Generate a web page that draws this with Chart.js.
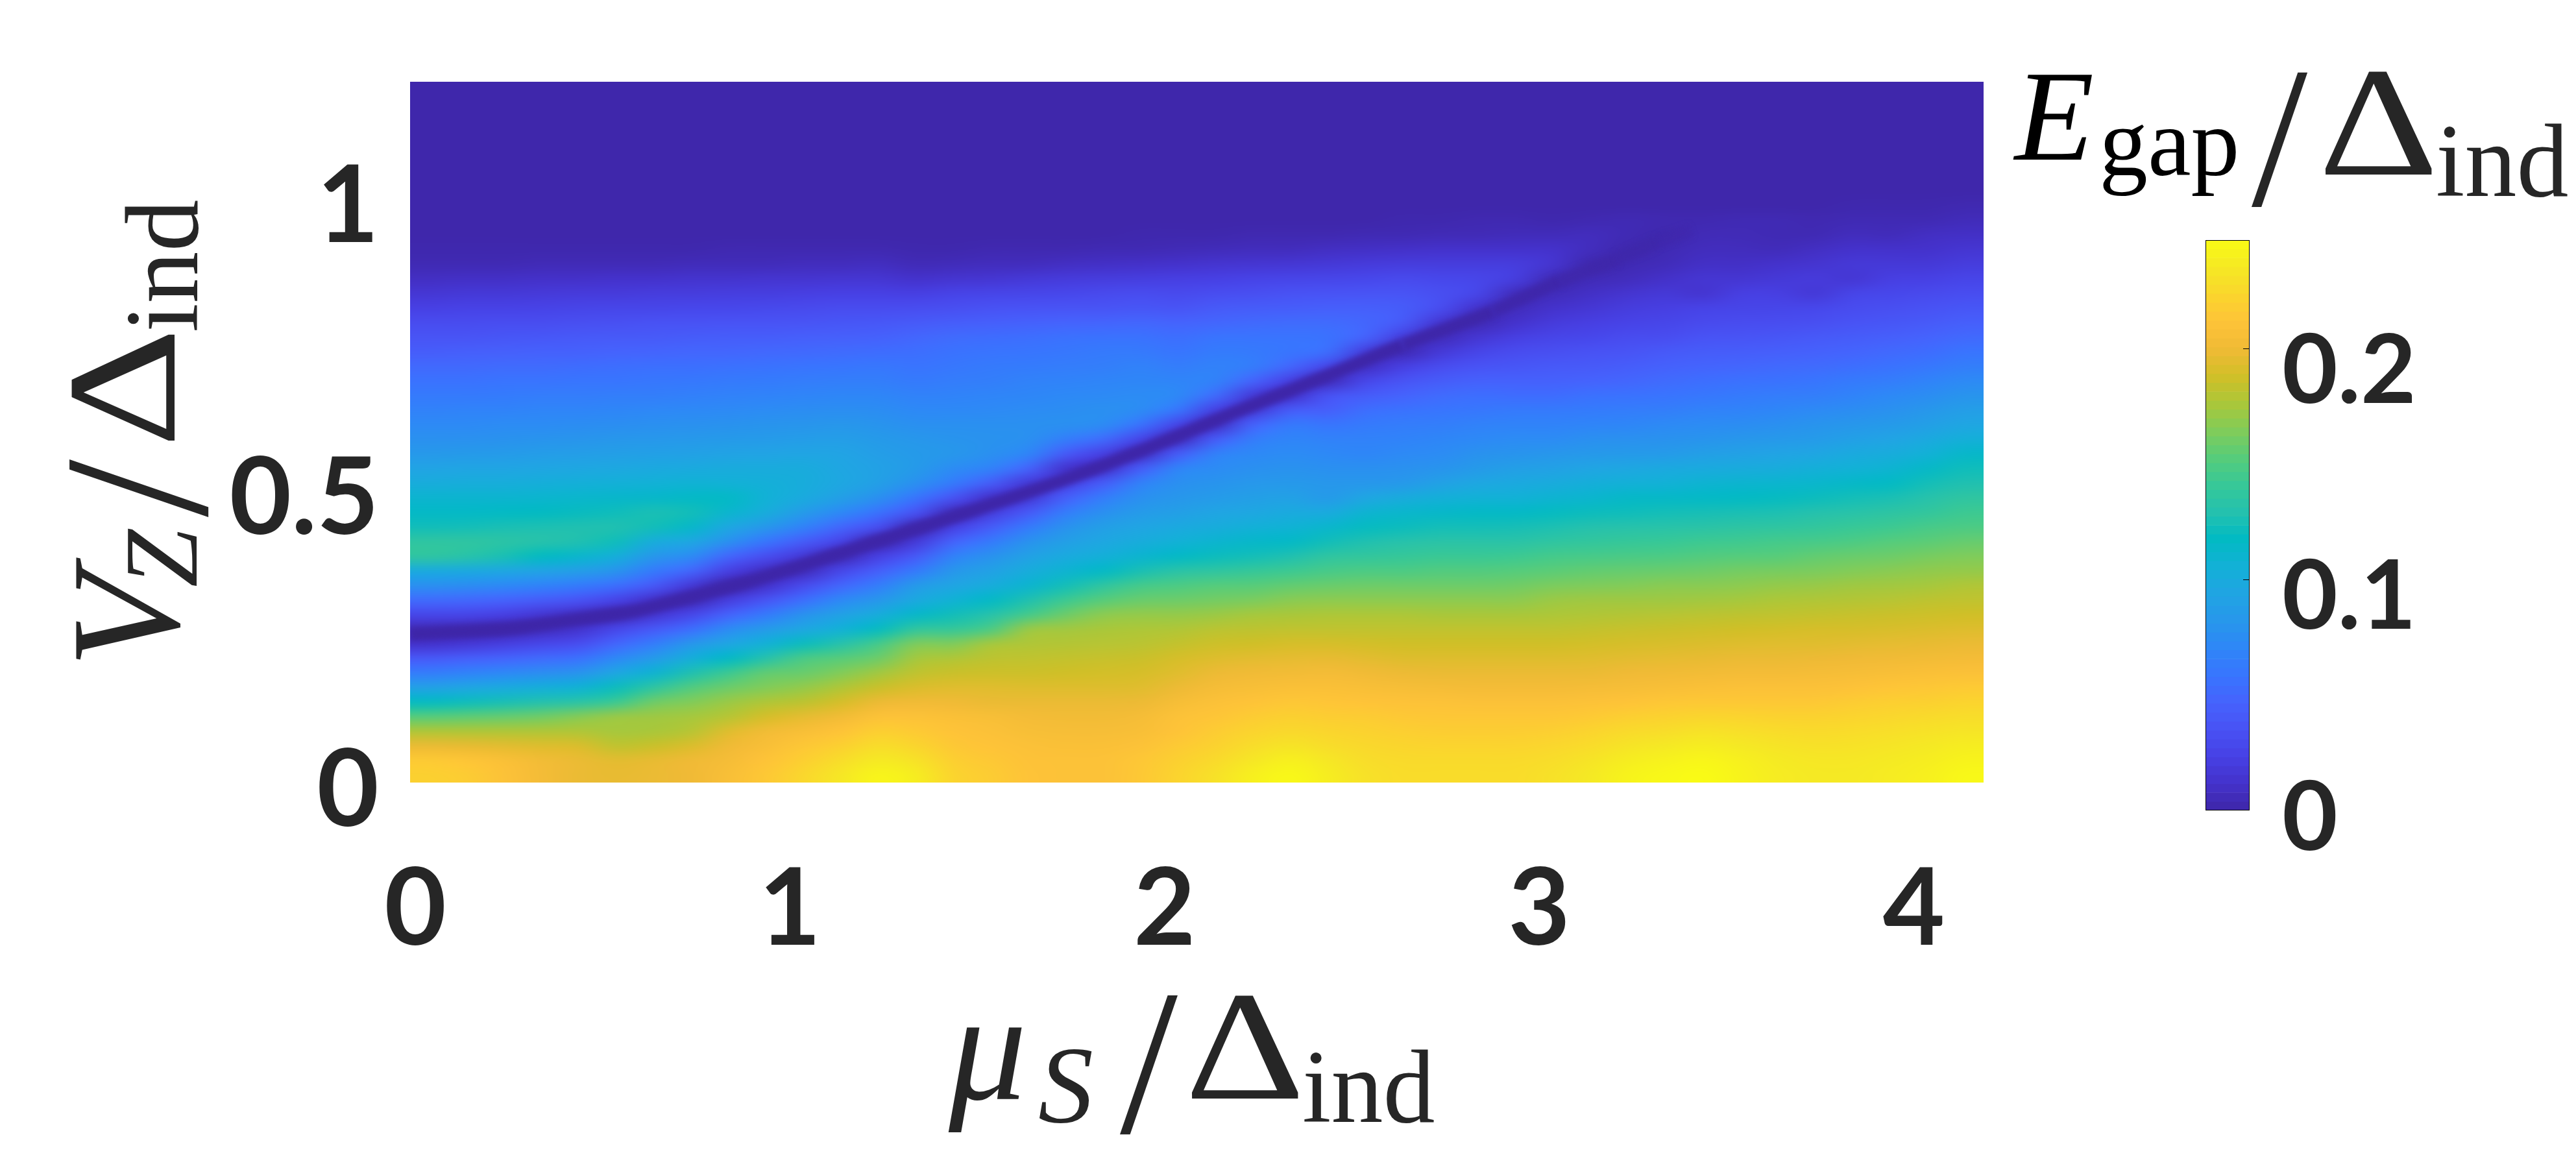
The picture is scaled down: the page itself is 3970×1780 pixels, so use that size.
<!DOCTYPE html>
<html>
<head>
<meta charset="utf-8">
<title>E_gap map</title>
<script src="https://cdn.jsdelivr.net/npm/chart.js@4"></script>
<style>
html, body { margin: 0; background: #fff; }
#wrap { position: relative; width: 3970px; height: 1780px; overflow: hidden; }
#wrap canvas { position: absolute; }
</style>
</head>
<body>
<div id="wrap">
  <canvas id="map" width="3970" height="1780" style="left:0;top:0"></canvas>
  <canvas id="bar" width="670" height="1060" style="left:3300px;top:300px"></canvas>
</div>
<script>
// cell centres of the map
const muCols = [0.05,0.15,0.25,0.35,0.45,0.55,0.65,0.75,0.85,0.95,1.05,1.15,1.25,1.35,1.45,1.55,1.65,1.75,1.85,1.95,2.05,2.15,2.25,2.35,2.45,2.55,2.65,2.75,2.85,2.95,3.05,3.15,3.25,3.35,3.45,3.55,3.65,3.75,3.85,3.95,4.05,4.15];
const vzRows = [0.0125,0.0375,0.0625,0.0875,0.1125,0.1375,0.1625,0.1875,0.2125,0.2375,0.2625,0.2875,0.3125,0.3375,0.3625,0.3875,0.4125,0.4375,0.4625,0.4875,0.5125,0.5375,0.5625,0.5875,0.6125,0.6375,0.6625,0.6875,0.7125,0.7375,0.7625,0.7875,0.8125,0.8375,0.8625,0.8875,0.9125,0.9375,0.9625,0.9875,1.0125,1.0375,1.0625,1.0875,1.1125,1.1375,1.1625,1.1875];
const rowStep = 0.025;

// E_gap in thousandths, one list per mu column, from V_Z = 0 upward.
// Rows past the end of a list sit in the flat dark region (flatGap).
const flatGap = 1;
const gapByMu = [
[220,216,198,178,153,119,91,64,40,12,7,27,52,77,99,136,136,123,116,110,101,93,84,78,73,67,62,57,51,43,37,31,23,16,9,4,2],
[217,213,197,178,155,122,95,68,44,16,6,26,50,75,98,132,136,124,116,110,102,94,85,78,73,68,62,57,51,44,37,31,24,17,10,4,2],
[210,208,195,178,157,126,99,72,48,21,4,22,47,72,96,126,134,126,117,110,102,94,86,79,74,68,63,58,52,45,38,32,24,17,10,4,2],
[203,202,193,178,160,130,103,76,52,27,8,16,42,68,92,118,131,127,118,111,103,95,87,80,74,69,64,58,52,46,39,32,25,18,11,5,2],
[198,198,192,178,166,134,107,80,56,32,13,10,36,63,88,112,128,128,120,112,104,96,88,81,75,69,64,59,53,46,40,33,26,19,11,5,2],
[197,195,183,175,172,143,121,96,72,49,27,6,25,55,80,103,122,128,122,113,105,97,89,82,76,70,65,59,54,47,41,34,27,19,12,5,2],
[198,197,186,176,173,160,136,109,86,64,40,15,12,40,62,82,101,123,126,114,106,98,90,83,77,71,65,60,55,48,41,35,27,20,12,5,2],
[200,200,192,180,175,165,151,128,103,82,54,27,5,17,49,74,96,114,123,116,107,99,91,84,78,72,66,61,55,49,42,35,28,20,13,6,2],
[207,204,200,194,180,172,159,143,116,95,74,47,20,3,22,49,77,96,111,116,106,100,92,85,79,73,67,62,56,49,43,36,28,21,13,6,3],
[215,212,207,202,190,178,165,156,131,106,86,62,37,12,10,32,59,82,101,106,104,100,93,86,80,74,68,63,57,50,43,36,29,21,14,6,3],
[224,219,214,207,196,182,170,158,148,121,96,79,54,30,7,17,42,67,86,99,101,100,94,87,81,75,69,64,58,51,44,37,30,22,14,7,3],
[234,228,220,212,202,190,178,165,153,131,106,91,72,49,27,5,25,49,72,89,96,95,93,88,82,76,70,65,59,52,45,38,31,23,15,7,3],
[243,236,228,219,210,199,186,174,159,146,119,101,82,64,44,22,3,32,57,77,89,91,88,85,80,75,70,65,60,53,46,39,31,23,15,8,3],
[238,231,223,216,210,201,192,183,175,164,138,114,98,85,62,40,17,5,35,59,77,85,85,82,77,72,67,62,58,54,49,41,32,22,12,5,2,1],
[222,219,215,212,208,200,194,186,178,164,140,123,107,94,82,67,47,22,7,35,62,74,82,80,77,72,68,64,60,57,52,43,33,25,14,6,2],
[217,215,212,209,206,198,194,187,182,175,149,131,116,101,91,79,62,42,20,12,42,67,77,79,77,73,69,65,62,58,53,44,35,26,15,7,3],
[212,211,209,206,203,198,193,187,183,178,172,146,128,110,101,91,79,62,40,17,17,47,69,77,77,74,70,67,63,59,54,46,36,27,17,7,3],
[210,210,208,205,202,198,193,188,184,179,174,159,143,124,109,99,89,79,64,44,22,12,40,64,77,75,72,68,64,60,56,47,37,28,19,9,3],
[210,210,208,205,202,198,193,189,185,180,176,168,153,136,116,104,96,89,77,64,42,12,22,52,74,77,73,69,65,62,57,48,37,30,20,10,4],
[215,214,210,207,204,199,194,190,186,181,177,170,158,146,126,110,101,94,86,77,67,42,10,25,57,74,74,70,67,62,57,49,38,31,21,11,4,2],
[222,220,216,212,210,205,199,194,190,184,178,170,159,149,133,116,106,98,89,82,77,69,42,9,25,59,72,69,64,59,54,47,37,30,22,12,5,2],
[230,226,221,217,213,209,204,199,193,187,181,172,161,152,136,121,110,101,94,86,80,74,67,42,10,22,52,67,67,63,58,49,41,32,23,14,6,2],
[240,234,228,222,217,212,206,201,195,188,182,175,163,153,140,124,114,105,96,89,83,77,72,64,47,17,17,47,64,62,58,51,42,33,25,15,7,3],
[245,240,232,225,220,214,208,202,196,190,183,176,167,156,143,128,116,107,99,91,84,79,74,69,62,42,12,22,49,59,58,52,43,35,26,16,7,3],
[238,234,228,223,218,213,208,203,197,190,183,177,168,158,147,136,123,112,99,85,82,77,72,67,59,44,35,7,27,54,57,52,44,36,27,17,9,3],
[230,228,225,221,217,212,207,201,195,189,183,177,168,159,149,138,128,119,109,95,82,77,70,67,62,54,42,27,10,20,47,49,44,37,28,19,10,4],
[227,226,223,219,215,211,205,199,193,188,183,177,168,159,149,140,131,121,112,100,84,78,73,68,64,57,47,37,22,5,20,40,42,37,30,20,11,4,2],
[227,226,222,218,214,210,204,198,193,188,183,176,168,159,151,142,133,124,114,104,91,80,74,70,65,59,52,42,31,17,7,15,32,33,28,20,12,5,2],
[227,226,222,218,214,209,203,198,193,188,183,176,168,159,151,142,133,124,116,106,96,85,79,72,67,60,54,46,36,26,15,5,12,27,27,20,12,5,3],
[227,226,222,218,214,209,203,198,193,188,183,176,168,160,152,143,133,125,116,106,98,89,80,74,68,62,53,46,38,31,22,12,7,7,21,20,12,6,3],
[230,228,224,219,214,209,203,198,193,188,183,177,172,163,154,146,136,127,119,109,100,91,82,74,68,62,53,46,40,33,26,19,12,6,5,14,12,6,2],
[235,232,227,222,216,210,204,198,194,189,184,178,173,164,156,147,138,130,121,111,103,94,84,77,69,63,56,47,41,35,28,22,16,10,5,2,7,7,3],
[242,238,232,226,219,212,205,200,195,190,185,179,173,165,157,148,140,131,122,115,105,96,85,78,70,64,57,49,43,37,31,25,20,14,7,4,2,4,4],
[245,241,235,228,221,214,207,201,196,191,186,180,173,167,158,149,141,132,124,115,106,98,86,79,73,65,58,52,46,40,32,27,22,17,11,6,4,2,3],
[247,244,238,231,223,215,208,202,197,192,187,181,174,167,159,151,143,133,125,116,109,99,89,80,74,67,60,54,48,42,36,30,25,14,15,10,7,5,3],
[242,240,235,229,222,215,209,203,198,193,188,182,175,168,161,152,144,135,126,117,110,100,91,82,75,68,62,56,49,43,37,31,26,22,15,10,7,5,4],
[237,236,232,227,221,215,209,203,198,194,189,183,177,170,162,153,146,136,127,119,111,101,93,84,77,70,64,57,51,44,38,32,27,22,17,12,6,4,4],
[235,234,230,226,221,215,209,204,199,194,190,184,178,171,163,156,147,138,130,121,112,104,95,86,80,73,65,59,52,46,40,33,28,17,19,14,9,4,3],
[235,234,231,227,222,217,211,205,200,195,190,185,179,173,165,158,149,141,132,124,115,106,99,90,82,75,68,62,54,48,42,36,31,26,16,17,12,7,4,2],
[237,236,233,229,224,219,213,207,201,196,191,186,180,174,167,159,152,143,135,126,117,109,101,93,85,78,72,64,57,51,44,38,33,28,22,17,12,6,4,2],
[240,238,235,231,226,220,214,208,202,197,192,187,182,175,169,162,154,147,138,131,124,115,106,98,89,82,75,68,60,53,47,41,35,30,23,17,12,9,4,2],
[245,242,238,233,228,222,216,209,203,198,193,188,183,178,170,164,157,149,143,136,128,122,114,104,95,88,80,73,65,58,51,44,38,32,26,20,15,10,6,3]
];

// dark gapless line
const ridgeMu = [0,0.25,0.42,0.6,0.78,0.95,1.13,1.3,1.55,1.77,1.99,2.21,2.43,2.65,2.89,3.07,3.22,3.33,3.42];
const ridgeVz = [0.254,0.263,0.277,0.294,0.323,0.353,0.389,0.424,0.476,0.524,0.578,0.636,0.692,0.749,0.807,0.859,0.896,0.926,0.945];
const ridgeFade = [1,1,1,1,1,1,1,1,1,1,1,1,1,0.95,0.85,0.7,0.55,0.35,0.1];

const muTicks = [0,1,2,3,4];
const vzTicks = [0,0.5,1];
const barTicks = [0,0.1,0.2];
const barTickShift = [13,28,36];   // the tick labels of the colour bar sit lower than the ticks
const gapMax = 0.247;

// parula, every third entry
const parula = ['#3e26a8','#4432cb','#4741e5','#4852f4','#4563fd','#3875fe','#2e87f7','#2797eb','#20a5e3','#12b1d6','#02bac3','#24c1ae','#37c897','#57cc7a','#81cc59','#abc739','#d1bf27','#f0ba36','#fec338','#fad62d','#f5e924','#f9fb15'];

function gapColor(v) {
    const t = Math.min(Math.max(v / gapMax, 0), 1) * (parula.length - 1);
    const i = Math.min(Math.floor(t), parula.length - 2);
    const f = t - i;
    const a = parseInt(parula[i].slice(1), 16);
    const b = parseInt(parula[i + 1].slice(1), 16);
    const mix = s => Math.round(((a >> s) & 255) * (1 - f) + ((b >> s) & 255) * f);
    return 'rgb(' + mix(16) + ',' + mix(8) + ',' + mix(0) + ')';
}

const inkDark = '#262626';
const serif = '"Liberation Serif"';

// pieces of the math labels: text, font, position along the baseline, optional stretch
const titleParts = [
    { t: '\u03bc', f: 'italic 240px', x: 1462, y: 1694 },
    { t: 'S', f: 'italic 170px', x: 1600, y: 1729 },
    { t: '/', f: '320px', x: 1726, y: 1745 },
    { t: '\u0394', f: '240px', x: 1826, y: 1693, sx: 1.2 },
    { t: 'ind', f: '160px', x: 2007, y: 1729 },
    { t: 'E', f: 'italic 200px', x: 3105, y: 246, c: '#000' },
    { t: 'gap', f: '150px', x: 3235, y: 270, c: '#000' },
    { t: '/', f: '310px', x: 3470, y: 316 },
    { t: '\u0394', f: '240px', x: 3573, y: 269, sx: 1.2 },
    { t: 'ind', f: '160px', x: 3754, y: 302 }
];
const yTitleParts = [
    { t: 'V', f: 'italic 240px', x: 274, y: 1029 },
    { t: 'Z', f: 'italic 160px', x: 303, y: 905 },
    { t: '/', f: '320px', x: 318, y: 797 },
    { t: '\u0394', f: '240px', x: 269, y: 690, sx: 1.2 },
    { t: 'ind', f: '160px', x: 304, y: 512 }
];

function putPart(ctx, p, angle) {
    ctx.save();
    ctx.translate(p.x, p.y);
    ctx.rotate(angle);
    ctx.scale(p.sx || 1, 1);
    ctx.font = p.f + ' ' + serif;
    ctx.fillStyle = p.c || inkDark;
    ctx.fillText(p.t, 0, 0);
    ctx.restore();
}

const mathLabels = {
    id: 'mathLabels',
    afterDraw(chart) {
        const ctx = chart.ctx;
        ctx.save();
        ctx.textBaseline = 'alphabetic';
        ctx.textAlign = 'left';
        titleParts.forEach(p => putPart(ctx, p, 0));
        yTitleParts.forEach(p => putPart(ctx, p, -Math.PI / 2));
        ctx.restore();
    }
};

// the cells are drawn by the bars, then resampled so the map looks interpolated
const smoothCells = {
    id: 'smoothCells',
    beforeDatasetDraw(chart, args) {
        if (args.index !== 0) return;
        const a = chart.chartArea;
        const small = document.createElement('canvas');
        small.width = muCols.length;
        small.height = vzRows.length;
        const sctx = small.getContext('2d');
        sctx.imageSmoothingEnabled = false;
        sctx.drawImage(chart.canvas, a.left, a.top, a.width, a.height, 0, 0, small.width, small.height);
        const ctx = chart.ctx;
        ctx.save();
        ctx.imageSmoothingEnabled = true;
        ctx.imageSmoothingQuality = 'high';
        ctx.drawImage(small, 0, 0, small.width, small.height, a.left, a.top, a.width, a.height);
        ctx.restore();
        ctx.filter = 'blur(4px)';
    },
    afterDatasetDraw(chart, args) {
        if (args.index === 0) chart.ctx.filter = 'none';
    }
};

const cellSets = muCols.map((mu, c) => ({
    type: 'bar',
    label: 'mu ' + mu,
    data: vzRows.map(vz => ({ x: mu, y: [vz - rowStep / 2, vz + rowStep / 2] })),
    backgroundColor: vzRows.map((vz, r) => gapColor((gapByMu[c][r] ?? flatGap) / 1000)),
    borderWidth: 0,
    grouped: false,
    barPercentage: 1,
    categoryPercentage: 1
}));

const ridgeSet = {
    type: 'line',
    label: 'ridge',
    data: ridgeMu.map((mu, i) => ({ x: mu, y: ridgeVz[i] })),
    borderWidth: 20,
    borderColor: '#3e26a8',
    segment: { borderColor: c => 'rgba(62,38,168,' + ridgeFade[c.p0DataIndex] + ')' },
    pointRadius: 0,
    tension: 0.3,
    fill: false
};

// keep the axis boxes at a fixed size so the plot area lands where it should
function fixBox(s, size) {
    if (s.isHorizontal()) s.height = size; else s.width = size;
    s.paddingTop = s.paddingBottom = s.paddingLeft = s.paddingRight = 0;
}

const tickFont = { family: 'Lato', size: 165, weight: 'bold' };

new Chart(document.getElementById('map'), {
    type: 'bar',
    data: { datasets: [ridgeSet].concat(cellSets) },
    options: {
        responsive: false,
        animation: false,
        layout: { autoPadding: false, padding: { left: 300, right: 913, top: 126, bottom: 274 } },
        plugins: { legend: { display: false }, tooltip: { enabled: false } },
        scales: {
            x: {
                type: 'linear', offset: false, min: 0, max: 4.2,
                grid: { display: false }, border: { display: false },
                afterFit: s => fixBox(s, 300),
                afterBuildTicks: s => { s.ticks = muTicks.map(v => ({ value: v })); },
                ticks: { font: tickFont, color: inkDark, padding: 90, labelOffset: 8, maxRotation: 0, autoSkip: false, callback: v => String(v) }
            },
            y: {
                type: 'linear', min: 0, max: 1.2,
                grid: { display: false }, border: { display: false },
                afterFit: s => fixBox(s, 332),
                afterBuildTicks: s => { s.ticks = vzTicks.map(v => ({ value: v })); },
                ticks: { font: tickFont, color: inkDark, padding: 40, labelOffset: 14, autoSkip: false, callback: v => String(v) }
            }
        }
    },
    plugins: [smoothCells, mathLabels]
});

// colour bar
const barLevels = [];
for (let i = 0; i < 64; i++) barLevels.push(i * gapMax / 64);

const barDress = {
    id: 'barDress',
    beforeDraw(chart) {
        const y = chart.scales.y;
        y.getLabelItems(chart.chartArea).forEach((item, i) => { item.options.translation[1] += barTickShift[i]; });
    },
    afterDatasetsDraw(chart) {
        const ctx = chart.ctx, a = chart.chartArea, y = chart.scales.y;
        ctx.save();
        ctx.strokeStyle = '#000';
        ctx.lineWidth = 1;
        ctx.strokeRect(a.left + 0.5, a.top + 0.5, a.width - 1, a.height - 1);
        barTicks.slice(1).forEach(v => {
            const py = Math.round(y.getPixelForValue(v)) + 0.5;
            ctx.beginPath();
            ctx.moveTo(a.right - 10, py);
            ctx.lineTo(a.right, py);
            ctx.stroke();
        });
        ctx.restore();
    }
};

new Chart(document.getElementById('bar'), {
    type: 'bar',
    data: {
        labels: ['E'],
        datasets: [{
            data: barLevels.map(v => ({ x: 'E', y: [v, v + gapMax / 64] })),
            backgroundColor: barLevels.map(v => gapColor(v + gapMax / 128)),
            borderWidth: 0,
            grouped: false,
            barPercentage: 1,
            categoryPercentage: 1
        }]
    },
    options: {
        responsive: false,
        animation: false,
        layout: { autoPadding: false, padding: { left: 99, right: 203, top: 70, bottom: 111 } },
        plugins: { legend: { display: false }, tooltip: { enabled: false } },
        scales: {
            x: { display: false },
            y: {
                type: 'linear', position: 'right', min: 0, max: gapMax,
                grid: { display: false }, border: { display: false },
                afterFit: s => fixBox(s, 300),
                afterBuildTicks: s => { s.ticks = barTicks.map(v => ({ value: v })); },
                ticks: { font: { family: 'Lato', size: 148, weight: 'bold' }, color: inkDark, padding: 42, autoSkip: false, callback: v => String(v) }
            }
        }
    },
    plugins: [barDress]
});
</script>
</body>
</html>
